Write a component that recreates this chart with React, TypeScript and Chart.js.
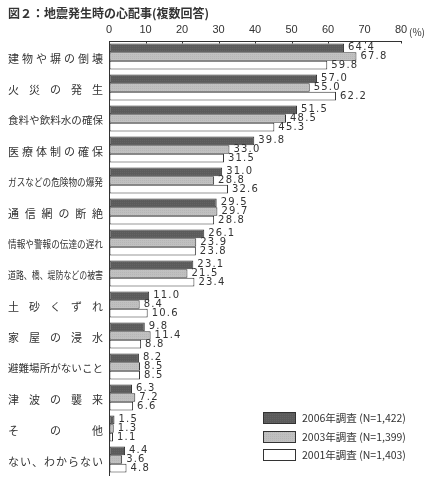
import { useEffect, useRef } from "react";
import { Chart, registerables } from "chart.js";
Chart.register(...registerables);

const TITLE = "図２：地震発生時の心配事(複数回答)";

const categories = [
  "建物や塀の倒壊",
  "火災の発生",
  "食料や飲料水の確保",
  "医療体制の確保",
  "ガスなどの危険物の爆発",
  "通信網の断絶",
  "情報や警報の伝達の遅れ",
  "道路、橋、堤防などの被害",
  "土砂くずれ",
  "家屋の浸水",
  "避難場所がないこと",
  "津波の襲来",
  "その他",
  "ない、わからない",
];

const seriesLabels = ["2006年調査 (N=1,422)", "2003年調査 (N=1,399)", "2001年調査 (N=1,403)"];

const survey2006 = [64.4, 57.0, 51.5, 39.8, 31.0, 29.5, 26.1, 23.1, 11.0, 9.8, 8.2, 6.3, 1.5, 4.4];
const survey2003 = [67.8, 55.0, 48.5, 33.0, 28.8, 29.7, 23.9, 21.5, 8.4, 11.4, 8.5, 7.2, 1.3, 3.6];
const survey2001 = [59.8, 62.2, 45.3, 31.5, 32.6, 28.8, 23.8, 23.4, 10.6, 8.8, 8.5, 6.6, 1.1, 4.8];

const TEXT = "#333";
const JP = '"Noto Sans CJK JP", "Noto Sans", sans-serif';

// small dotted fill, the print original has a screen texture
const makePattern = (base: string, dot: string) => {
  const c = document.createElement("canvas");
  c.width = 2;
  c.height = 2;
  const g = c.getContext("2d")!;
  g.fillStyle = base;
  g.fillRect(0, 0, 2, 2);
  g.fillStyle = dot;
  g.fillRect(0, 0, 1, 1);
  return g.createPattern(c, "repeat")!;
};

const decorPlugin = {
  id: "decor",
  afterDraw(chart: any) {
    const ctx = chart.ctx as CanvasRenderingContext2D;
    const area = chart.chartArea;
    const xs = chart.scales.x;
    const ys = chart.scales.y;
    ctx.save();

    // title
    ctx.fillStyle = TEXT;
    ctx.font = `bold 12px ${JP}`;
    ctx.textBaseline = "middle";
    ctx.textAlign = "left";
    ctx.fillText(TITLE, 8, 13);

    // unit
    ctx.font = `10px ${JP}`;
    ctx.fillText("(%)", 409, 32);

    // inward tick marks on top axis
    ctx.strokeStyle = TEXT;
    ctx.lineWidth = 1;
    for (let v = 10; v <= 80; v += 10) {
      const px = Math.round(xs.getPixelForValue(v)) + 0.5;
      ctx.beginPath();
      ctx.moveTo(px, area.top);
      ctx.lineTo(px, area.top + 2.5);
      ctx.stroke();
    }

    // category labels spread across the label column
    const left = 8;
    const right = 103;
    const avail = right - left;
    categories.forEach((label, i) => {
      const cy = ys.getPixelForValue(i) + 2;
      const chars = Array.from(label);
      ctx.font = `11px ${JP}`;
      const widths = chars.map((ch) => ctx.measureText(ch).width);
      const total = widths.reduce((a, b) => a + b, 0);
      ctx.fillStyle = TEXT;
      ctx.textAlign = "left";
      if (total <= avail) {
        const gap = chars.length > 1 ? (avail - total) / (chars.length - 1) : 0;
        let x = left;
        chars.forEach((ch, k) => {
          ctx.fillText(ch, x, cy);
          x += widths[k] + gap;
        });
      } else {
        ctx.font = `10.5px ${JP}`;
        const w = ctx.measureText(label).width;
        ctx.save();
        ctx.translate(left, cy);
        ctx.scale(avail / w, 1);
        ctx.fillText(label, 0, 0);
        ctx.restore();
      }
    });

    // value labels
    ctx.font = `10px "DejaVu Sans", sans-serif`;
    (ctx as any).letterSpacing = "1.2px";
    ctx.textAlign = "left";
    chart.data.datasets.forEach((ds: any, di: number) => {
      const meta = chart.getDatasetMeta(di);
      meta.data.forEach((bar: any, i: number) => {
        ctx.fillStyle = TEXT;
        ctx.fillText(ds.data[i].toFixed(1), bar.x + 4, bar.y);
      });
    });
    (ctx as any).letterSpacing = "0px";

    // legend box inside the plot
    const lx = 263;
    const boxes = [412, 431, 449];
    chart.data.datasets.forEach((ds: any, di: number) => {
      const by = boxes[di];
      ctx.fillStyle = ds.backgroundColor;
      ctx.fillRect(lx, by, 32, 12);
      ctx.strokeStyle = TEXT;
      ctx.strokeRect(lx + 0.5, by + 0.5, 32, 11);
      ctx.fillStyle = TEXT;
      ctx.font = `10.5px ${JP}`;
      ctx.fillText(ds.label, 302, by + 6.5);
    });

    ctx.restore();
  },
};

export default function App() {
  const canvasRef = useRef<HTMLCanvasElement>(null);

  useEffect(() => {
    const chart = new Chart(canvasRef.current!, {
      type: "bar",
      data: {
        labels: categories,
        datasets: [
          { label: seriesLabels[0], data: survey2006, backgroundColor: makePattern("#5b5b5b", "#646464") as any },
          { label: seriesLabels[1], data: survey2003, backgroundColor: makePattern("#c0c0c0", "#b6b6b6") as any },
          { label: seriesLabels[2], data: survey2001, backgroundColor: "#ffffff" },
        ].map((d) => ({
          ...d,
          borderColor: TEXT,
          borderWidth: 1,
          borderSkipped: false,
          barPercentage: 1,
          categoryPercentage: 0.84,
        })),
      },
      options: {
        indexAxis: "y",
        animation: false,
        responsive: false,
        devicePixelRatio: 1,
        layout: { padding: { left: 0, right: 26, top: 0, bottom: 4 } },
        plugins: {
          legend: { display: false },
          tooltip: { enabled: false },
        },
        scales: {
          x: {
            position: "top",
            min: 0,
            max: 80,
            afterFit: (s: any) => {
              s.height = 41;
            },
            ticks: {
              stepSize: 10,
              padding: 4,
              color: TEXT,
              font: { family: '"Liberation Sans", sans-serif', size: 11 },
            },
            grid: { drawOnChartArea: false, drawTicks: false },
            border: { color: TEXT, width: 1 },
          },
          y: {
            afterFit: (s: any) => {
              s.width = 109;
            },
            ticks: { display: false },
            grid: { display: false },
            border: { color: TEXT, width: 1 },
          },
        },
      },
      plugins: [decorPlugin],
    });
    return () => chart.destroy();
  }, []);

  return (
    <div style={{ position: "absolute", left: 0, top: 0, width: 427, height: 479, background: "#fff" }}>
      <canvas ref={canvasRef} width={427} height={479} />
    </div>
  );
}
